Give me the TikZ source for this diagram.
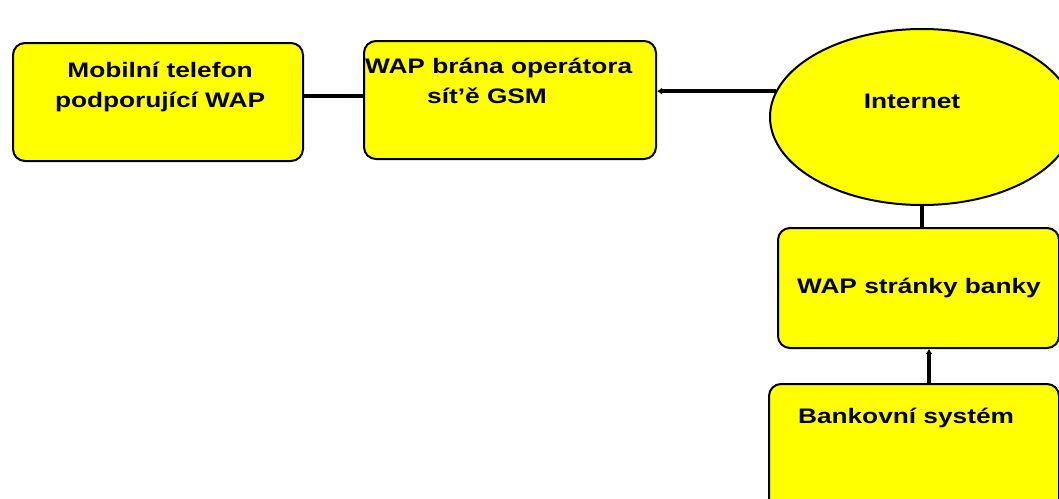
\documentclass[tikz,border=0pt]{standalone}
\usepackage{fontspec}
\setmainfont{Liberation Sans}[FakeStretch=1.25]
\usetikzlibrary{shapes.geometric,arrows.meta}
\definecolor{boxyellow}{RGB}{255,255,0}

\tikzset{
  block/.style={draw=black,line width=2pt,fill=boxyellow,rounded corners=12pt,
    anchor=north west,inner sep=0pt},
  cloud/.style={draw=black,line width=2pt,fill=boxyellow,ellipse,inner sep=0pt},
  caption/.style={font=\bfseries\fontsize{21}{30}\selectfont,inner sep=0pt},
  link/.style={line width=4.5pt}
}

\begin{document}
\begin{tikzpicture}[x=1pt,y=-1pt]
\clip (0,0) rectangle (1059,498);

% -- boxes
\node[block,minimum width=290pt,minimum height=118pt] (phone) at (12,42) {};
\node[block,minimum width=292pt,minimum height=118pt] (gate) at (363,40) {};
\node[cloud,minimum width=304pt,minimum height=176pt] (internet) at (922,117) {};
\node[block,minimum width=281pt,minimum height=120pt] (pages) at (777,227) {};
\node[block,minimum width=290pt,minimum height=140pt] (bank) at (768,383) {};

% -- texts
\node[caption,align=center] (phonetext) at (160,87) {Mobilní telefon\\podporující WAP};
\node[caption,align=left,anchor=west] (gatetext) at (365,81) {WAP brána operátora\\\hspace*{62pt}sít'ě GSM};
\node[caption] (internettext) at (912,101) {Internet};
\node[caption] (pagestext) at (919,288) {WAP stránky banky};
\node[caption] (banktext) at (906,418) {Bankovní systém};

% -- draw links
\draw[link] (phone.east |- 0,96) -- (gate.west |- 0,96);
\draw[link,-{Latex[length=5pt,width=7pt]}] (internet.170) -- (internet.170 -| gate.east);
\draw[link] (internet.south) -- (internet.south |- pages.north);
\draw[link,-{Latex[length=5pt,width=7pt]}] ([xshift=15pt]bank.north) -- ([xshift=15pt]bank.north |- pages.south);
\end{tikzpicture}
\end{document}
